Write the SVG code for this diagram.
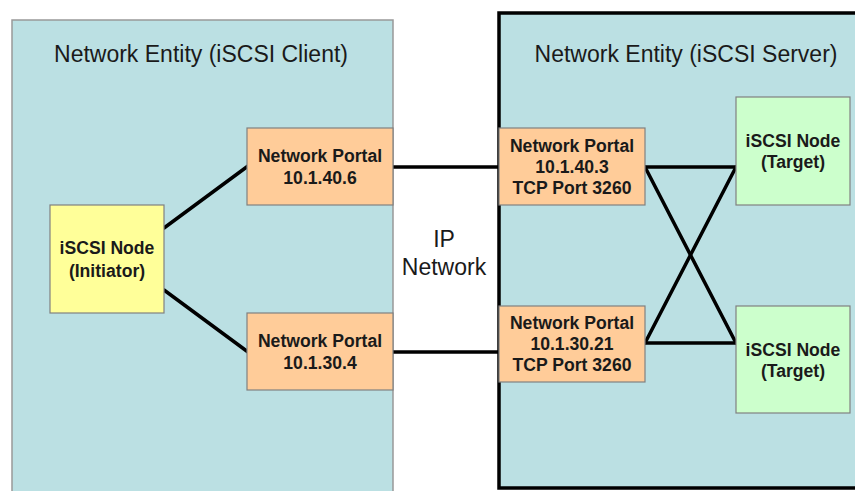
<svg xmlns="http://www.w3.org/2000/svg" width="855" height="491" viewBox="0 0 855 491">
<style>
.title{font-family:"Liberation Sans",Arial,sans-serif;font-size:23px;fill:#1a1a1a;text-anchor:middle}
.lbl{font-family:"Liberation Sans",Arial,sans-serif;font-size:17.6px;font-weight:bold;fill:#1a1a1a;text-anchor:middle}
.box{stroke:#808080;stroke-width:1.2}
.portal{fill:#FFCC99}
.init{fill:#FFFF99}
.tgt{fill:#CCFFCC}
.conn{stroke:#000;stroke-width:3.5;fill:none;stroke-linecap:round}
</style>
<rect width="855" height="491" fill="#fff"/>
<g id="client">
<rect x="12" y="20" width="381" height="480" fill="#BBE0E3" stroke="#999" stroke-width="1.5"/>
<text class="title" x="201" y="62">Network Entity (iSCSI Client)</text>
</g>
<g id="server">
<rect x="499" y="13" width="370" height="475" fill="#BBE0E3" stroke="#000" stroke-width="3.5"/>
<text class="title" x="686" y="62">Network Entity (iSCSI Server)</text>
</g>
<g id="ip-network">
<text class="title" x="444" y="247">IP</text>
<text class="title" x="444" y="275">Network</text>
</g>
<g id="connectors">
<line class="conn" x1="164" y1="228" x2="248" y2="166"/>
<line class="conn" x1="164" y1="290" x2="248" y2="352"/>
<line class="conn" x1="393" y1="167" x2="499" y2="167"/>
<line class="conn" x1="393" y1="352" x2="499" y2="352"/>
<line class="conn" x1="645" y1="167" x2="736" y2="167"/>
<line class="conn" x1="645" y1="343" x2="736" y2="343"/>
<line class="conn" x1="645" y1="167" x2="736" y2="343"/>
<line class="conn" x1="645" y1="343" x2="736" y2="167"/>
</g>
<g id="initiator">
<rect class="box init" x="50" y="205" width="114" height="108"/>
<text class="lbl" x="107" y="254">iSCSI Node</text>
<text class="lbl" x="107" y="277">(Initiator)</text>
</g>
<g id="portal-client-1">
<rect class="box portal" x="247" y="128" width="146" height="77"/>
<text class="lbl" x="320" y="162">Network Portal</text>
<text class="lbl" x="320" y="184">10.1.40.6</text>
</g>
<g id="portal-client-2">
<rect class="box portal" x="247" y="313" width="146" height="77"/>
<text class="lbl" x="320" y="347">Network Portal</text>
<text class="lbl" x="320" y="369">10.1.30.4</text>
</g>
<g id="portal-server-1">
<rect class="box portal" x="499" y="128" width="146" height="77"/>
<text class="lbl" x="572" y="152">Network Portal</text>
<text class="lbl" x="572" y="173">10.1.40.3</text>
<text class="lbl" x="572" y="194">TCP Port 3260</text>
</g>
<g id="portal-server-2">
<rect class="box portal" x="499" y="306" width="146" height="76"/>
<text class="lbl" x="572" y="329">Network Portal</text>
<text class="lbl" x="572" y="350">10.1.30.21</text>
<text class="lbl" x="572" y="371">TCP Port 3260</text>
</g>
<g id="target-1">
<rect class="box tgt" x="736" y="97" width="114" height="108"/>
<text class="lbl" x="793" y="147">iSCSI Node</text>
<text class="lbl" x="793" y="168">(Target)</text>
</g>
<g id="target-2">
<rect class="box tgt" x="736" y="306" width="114" height="107"/>
<text class="lbl" x="793" y="356">iSCSI Node</text>
<text class="lbl" x="793" y="377">(Target)</text>
</g>
</svg>
